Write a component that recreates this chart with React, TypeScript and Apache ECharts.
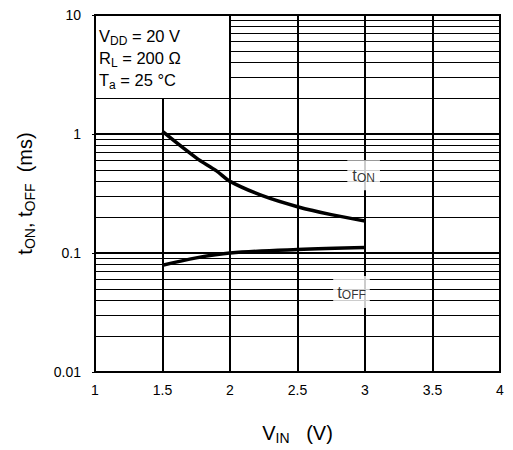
import React, { useEffect, useRef } from "react";
import * as echarts from "echarts";

// t_ON curve
const vinOn = [1.5, 1.75, 1.9, 2.0, 2.25, 2.5, 2.75, 3.0];
const tOn = [1.05, 0.63, 0.49, 0.4, 0.3, 0.245, 0.21, 0.186];
// t_OFF curve
const vinOff = [1.5, 1.75, 2.0, 2.5, 3.0];
const tOff = [0.079, 0.091, 0.1, 0.107, 0.111];

// axes
const xMin = 1;
const xMax = 4;
const xStep = 0.5;
const yMin = 0.01;
const yMax = 10;
const decadeStarts = [0.01, 0.1, 1];
const minorMult = [2, 3, 4, 5, 6, 7, 8, 9];
const verticalLines = [1.5, 2, 2.5, 3, 3.5];
// legend box corner (in data units): x up to 2, y from 2 up to 10
const boxX = 2;
const boxY = 2;

// curve label positions (data units)
const onLabel = [2.99, 0.45];
const offLabel = [2.9, 0.047];

const FONT = "Liberation Sans, Arial, sans-serif";

export default function App() {
  const ref = useRef<HTMLDivElement>(null);
  useEffect(() => {
    if (!ref.current) return;
    const chart = echarts.init(ref.current, null, { renderer: "svg" });

    const gridLines: any[] = [];
    decadeStarts.forEach((d) => {
      minorMult.forEach((m) => {
        const v = Number((d * m).toPrecision(3));
        const startX = d === 1 && m > 2 ? boxX : xMin;
        gridLines.push([
          { coord: [startX, v], lineStyle: { width: 1.2, color: "#000", type: "solid" } },
          { coord: [xMax, v] },
        ]);
      });
    });
    verticalLines.forEach((x) => {
      const top = x < boxX ? boxY : yMax;
      gridLines.push([
        { coord: [x, yMin], lineStyle: { width: 2, color: "#000", type: "solid" } },
        { coord: [x, top] },
      ]);
    });

    const subRich = (main: number, sub: number, lh: number) => ({
      v: { fontSize: main, fontFamily: FONT, color: "#000", lineHeight: lh },
      s: {
        fontSize: sub,
        fontFamily: FONT,
        color: "#000",
        lineHeight: sub,
        verticalAlign: "bottom",
      },
    });

    chart.setOption({
      animation: false,
      backgroundColor: "#fff",
      textStyle: { fontFamily: FONT, color: "#000" },
      grid: {
        left: 95,
        right: 13,
        top: 15,
        bottom: 71,
        show: true,
        borderColor: "#000",
        borderWidth: 2,
        backgroundColor: "transparent",
      },
      xAxis: {
        type: "value",
        min: xMin,
        max: xMax,
        interval: xStep,
        axisLine: { show: true, lineStyle: { color: "#000", width: 2 } },
        axisTick: { show: false },
        splitLine: { show: false },
        axisLabel: {
          color: "#000",
          fontSize: 14,
          fontFamily: FONT,
          margin: 11,
        },
        name: "{v|V}{s|IN}{v|   (V)}",
        nameLocation: "middle",
        nameGap: 49,
        nameTextStyle: { rich: subRich(20, 14, 24) },
      },
      yAxis: {
        type: "log",
        logBase: 10,
        min: yMin,
        max: yMax,
        axisLine: { show: true, lineStyle: { color: "#000", width: 2 } },
        axisTick: { show: true, length: 3, lineStyle: { color: "#000", width: 1 } },
        splitLine: { show: true, lineStyle: { color: "#000", width: 2 } },
        minorTick: { show: false },
        axisLabel: {
          color: "#000",
          fontSize: 14,
          fontFamily: FONT,
          margin: 14,
          formatter: (v: number) => String(Number(v.toPrecision(3))),
        },
        name: "{v|t}{s|ON}{v|, t}{s|OFF}{v|  (ms)}",
        nameLocation: "middle",
        nameGap: 58,
        nameTextStyle: { rich: subRich(20, 14, 24) },
      },
      graphic: [
        {
          type: "text",
          left: 99,
          top: 27,
          z: 50,
          style: {
            text:
              "{m|V}{s|DD}{m| = 20 V}\n{m|R}{s|L}{m| = 200 Ω}\n{m|T}{s|a}{m| = 25 °C}",
            fontFamily: FONT,
            rich: {
              m: { fontSize: 16.5, fontFamily: FONT, fill: "#000", lineHeight: 22 },
              s: {
                fontSize: 12,
                fontFamily: FONT,
                fill: "#000",
                lineHeight: 12,
                verticalAlign: "bottom",
              },
            },
          },
        },
      ],
      series: [
        {
          type: "line",
          name: "grid",
          data: [],
          z: 1,
          silent: true,
          markLine: {
            silent: true,
            symbol: ["none", "none"],
            label: { show: false },
            emphasis: { disabled: true },
            animation: false,
            data: gridLines,
          },
        },
        {
          type: "line",
          name: "tON",
          data: vinOn.map((x, i) => [x, tOn[i]]),
          smooth: 0.35,
          symbol: "none",
          z: 5,
          lineStyle: { color: "#000", width: 3.5 },
        },
        {
          type: "line",
          name: "tOFF",
          data: vinOff.map((x, i) => [x, tOff[i]]),
          smooth: 0.35,
          symbol: "none",
          z: 5,
          lineStyle: { color: "#000", width: 3.5 },
        },
        {
          type: "scatter",
          name: "labels",
          symbolSize: 0,
          z: 20,
          silent: true,
          data: [
            { value: onLabel, label: { formatter: "{v|t}{s|ON}", padding: [6, 5, 6, 5] } },
            { value: offLabel, label: { formatter: "{v|t}{s|OFF}", padding: [7, 4, 7, 4] } },
          ],
          label: {
            show: true,
            position: "inside",
            backgroundColor: "#fff",
            rich: subRich(16.5, 12, 18),
          },
        },
      ],
    });
    return () => chart.dispose();
  }, []);

  return (
    <div
      ref={ref}
      style={{ position: "fixed", left: 0, top: 0, width: 513, height: 450 }}
    />
  );
}
